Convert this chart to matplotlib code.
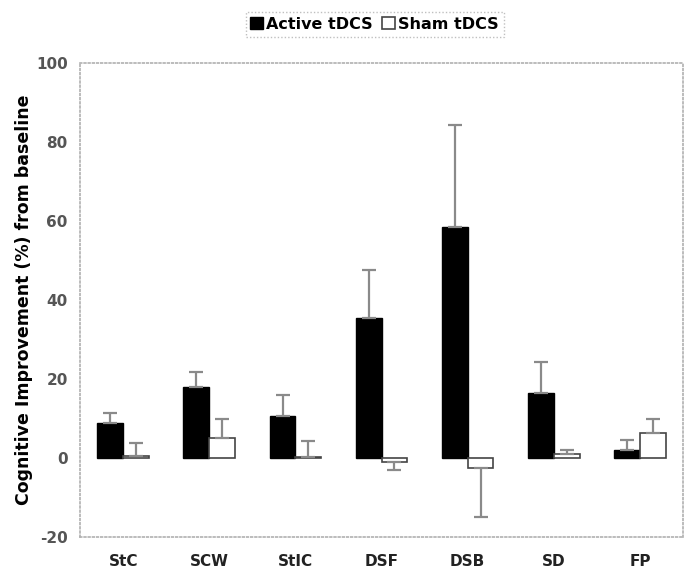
import numpy as np
import matplotlib.pyplot as plt

plt.rcParams["axes.unicode_minus"] = False

categories = ["StC", "SCW", "StIC", "DSF", "DSB", "SD", "FP"]
active = [8.9, 18.0, 10.6, 35.4, 58.5, 16.5, 2.0]
active_err = [2.5, 3.8, 5.4, 12.2, 25.8, 7.8, 2.6]
sham = [0.4, 5.0, 0.3, -1.0, -2.5, 1.0, 6.3]
sham_err = [3.4, 4.9, 4.0, 2.0, 12.5, 1.0, 3.5]

fig = plt.figure(figsize=(6.85, 5.72), dpi=100)
ax = fig.add_axes([0.117, 0.061, 0.880, 0.829])

x = np.arange(len(categories))
w = 0.3

# one-sided error bars (in the direction of the bar)
a_lo = [e if v < 0 else 0 for v, e in zip(active, active_err)]
a_hi = [e if v >= 0 else 0 for v, e in zip(active, active_err)]
s_lo = [e if v < 0 else 0 for v, e in zip(sham, sham_err)]
s_hi = [e if v >= 0 else 0 for v, e in zip(sham, sham_err)]

ekw = dict(ecolor="#8a8a8a", elinewidth=1.6, capsize=5, capthick=1.6)
ax.bar(x - w / 2, active, w, color="black", edgecolor="black",
       yerr=[a_lo, a_hi], error_kw=ekw, label="Active tDCS")
ax.bar(x + w / 2, sham, w, color="white", edgecolor="#444444", linewidth=1.2,
       yerr=[s_lo, s_hi], error_kw=ekw, label="Sham tDCS")

ax.set_xlim(-0.5, len(categories) - 0.5)
ax.set_ylim(-20, 100)
ax.set_yticks(np.arange(-20, 101, 20))
ax.set_xticks(x)
ax.set_xticklabels(categories, fontsize=11, fontweight="bold", color="#222222")
ax.tick_params(axis="y", labelsize=11, labelcolor="#555555", length=0, pad=9)
ax.tick_params(axis="x", length=0, pad=12)
for t in ax.get_yticklabels():
    t.set_fontweight("bold")

for sp in ax.spines.values():
    sp.set_linestyle((0, (1, 1.5)))
    sp.set_color("#b0b0b0")
    sp.set_linewidth(1.2)

ax.set_ylabel("Cognitive Improvement (%) from baseline", fontsize=12.5,
              fontweight="bold")
ax.yaxis.set_label_coords(-0.078, 0.5)

leg = fig.legend(loc="upper center", bbox_to_anchor=(0.547, 0.993), ncol=2,
                 fontsize=11.5, frameon=True, fancybox=False, handlelength=0.8,
                 handleheight=0.8, handletextpad=0.2, columnspacing=0.6,
                 borderpad=0.3)
leg.get_frame().set_linestyle((0, (1, 1.5)))
leg.get_frame().set_edgecolor("#b0b0b0")
for t in leg.get_texts():
    t.set_fontweight("bold")

fig.savefig("out.png", dpi=100)
